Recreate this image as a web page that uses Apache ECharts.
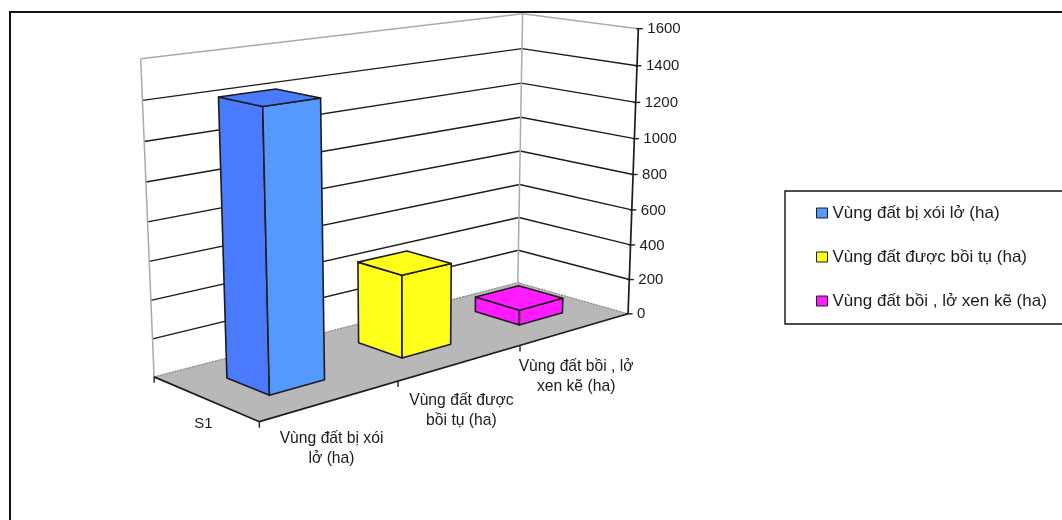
<!DOCTYPE html>
<html>
<head>
<meta charset="utf-8">
<style>html,body{margin:0;padding:0;background:#fff}#chart{width:1062px;height:520px}</style>
<script src="https://cdn.jsdelivr.net/npm/echarts@6/dist/echarts.min.js"></script>
</head>
<body>
<div id="chart"></div>
<script>
// Land-change areas, in hectares
const categories = ['Vùng đất bị xói lở (ha)', 'Vùng đất được bồi tụ (ha)', 'Vùng đất bồi , lở xen kẽ (ha)'];
const categoryLabels = ['Vùng đất bị xói\nlở (ha)', 'Vùng đất được\nbồi tụ (ha)', 'Vùng đất bồi , lở\nxen kẽ (ha)'];
const depthLabel = 'S1';
const areas = [1420, 445, 85];
const valueTicks = [0, 200, 400, 600, 800, 1000, 1200, 1400, 1600];
const frontColors = ['#5599FF', '#FFFF1A', '#FF1AFF'];
const sideColors = ['#4A7BFF', '#FFFF1A', '#FF1AFF'];

const FONT = '"Liberation Sans", Arial, sans-serif';
const INK = '#1c1c1c';
const WALL_LINE = '#ababab';
const FLOOR = '#b8b8b8';
const BAR_SHARE = 0.4; // bar size as a share of its band, along and across the floor

// Reference points of the box, as [u, v, z, screenX, screenY]:
// u runs along the categories, v into the depth, z up the value axis.
const viewPoints = [
  [0,0,0,259,421],[1,0,0,628,314],[1,1,0,517,282],[0,1,0,154,377],
  [1,0,1,638,29],[1,1,1,523,13],[0,1,1,141,59],
  [1,0,.5,633,174],[1,1,.5,520,152],[0,1,.5,147,222],
  [.1,.3,0,269,396],[.2333,.3,0,324,380],[.1,.7,0,228,378],
  [.4333,.3,0,402,358],[.5667,.3,0,451,344],[.4333,.7,0,359,342],
  [.7667,.3,0,520,325],[.9,.3,0,563,313],[.7667,.7,0,475,312]
];

// Least-squares fit of the eleven-term perspective camera for the box
function fitCamera(points) {
  const n = 11;
  const A = Array.from({length: n}, () => new Array(n + 1).fill(0));
  const addRow = (row, rhs) => {
    for (let i = 0; i < n; i++) {
      for (let j = 0; j < n; j++) A[i][j] += row[i] * row[j];
      A[i][n] += row[i] * rhs;
    }
  };
  points.forEach(([u, v, z, x, y]) => {
    addRow([u, v, z, 1, 0, 0, 0, 0, -x * u, -x * v, -x * z], x);
    addRow([0, 0, 0, 0, u, v, z, 1, -y * u, -y * v, -y * z], y);
  });
  for (let c = 0; c < n; c++) {
    let p = c;
    for (let r = c + 1; r < n; r++) if (Math.abs(A[r][c]) > Math.abs(A[p][c])) p = r;
    [A[c], A[p]] = [A[p], A[c]];
    for (let r = 0; r < n; r++) {
      if (r === c) continue;
      const f = A[r][c] / A[c][c];
      for (let k = c; k <= n; k++) A[r][k] -= f * A[c][k];
    }
  }
  return A.map((row, i) => row[n] / row[i]);
}
const cam = fitCamera(viewPoints);
function project(u, v, z) {
  const w = cam[8] * u + cam[9] * v + cam[10] * z + 1;
  return [
    (cam[0] * u + cam[1] * v + cam[2] * z + cam[3]) / w,
    (cam[4] * u + cam[5] * v + cam[6] * z + cam[7]) / w
  ];
}

// Share of the value axis, read through the chart's own scale
function axisShare(api, cs, value) {
  return (cs.y + cs.height - api.coord([0, value])[1]) / cs.height;
}
const seg = (a, b, color, width, dash) => ({
  type: 'line', silent: true,
  shape: {x1: a[0], y1: a[1], x2: b[0], y2: b[1]},
  style: {stroke: color, lineWidth: width, lineDash: dash || null}
});
const poly = (points, fill, stroke, width) => ({
  type: 'polygon', silent: true,
  shape: {points},
  style: {fill, stroke: stroke || null, lineWidth: width || 0, lineJoin: 'round'}
});
const label = (text, x, y, size, align, lineHeight) => ({
  type: 'text', silent: true,
  style: {text, x, y, fill: INK, font: size + 'px ' + FONT, align, verticalAlign: 'middle', lineHeight}
});

// Floor, walls, gridlines, the drawn axes and their labels
function renderBox(params, api) {
  const cs = params.coordSys;
  const kids = [];
  kids.push(poly([project(0,0,0), project(1,0,0), project(1,1,0), project(0,1,0)], FLOOR));
  kids.push(seg(project(0,1,0), project(1,1,0), '#8a8a8a', 1.2, [2, 1]));
  kids.push(seg(project(1,1,0), project(1,0,0), '#8a8a8a', 1.2, [2, 1]));
  valueTicks.forEach(t => {
    if (t === 0) return;
    const z = axisShare(api, cs, t);
    const last = t === valueTicks[valueTicks.length - 1];
    kids.push(seg(project(0,1,z), project(1,1,z), last ? WALL_LINE : INK, last ? 1.5 : 1.4));
    kids.push(seg(project(1,1,z), project(1,0,z), last ? WALL_LINE : INK, last ? 1.5 : 1.4));
  });
  const top = axisShare(api, cs, valueTicks[valueTicks.length - 1]);
  kids.push(seg(project(0,1,0), project(0,1,top), WALL_LINE, 1.5));
  kids.push(seg(project(1,1,0), project(1,1,top), WALL_LINE, 1.5));
  // Heavy edges: the value axis and the two front floor edges
  kids.push(seg(project(1,0,0), project(1,0,top), INK, 1.7));
  kids.push(seg(project(0,1,0), project(0,0,0), INK, 1.7));
  kids.push(seg(project(0,0,0), project(1,0,0), INK, 1.7));
  valueTicks.forEach(t => {
    const p = project(1, 0, axisShare(api, cs, t));
    kids.push(seg([p[0] - 2, p[1]], [p[0] + 4.5, p[1]], INK, 1.4));
    kids.push(label(String(t), p[0] + 9, p[1] + 0.5, 15, 'left'));
  });
  // Category boundaries and depth ends on the floor edges
  [0, 1, 2].forEach(i => {
    const p = project((api.coord([i, 0])[0] - cs.x) / cs.width - api.size([1, 0])[0] / cs.width / 2, 0, 0);
    kids.push(seg(p, [p[0], p[1] + 6], INK, 1.4));
  });
  const back = project(0, 1, 0);
  kids.push(seg(back, [back[0], back[1] + 6], INK, 1.4));
  categoryLabels.forEach((text, i) => {
    const p = project((api.coord([i, 0])[0] - cs.x) / cs.width, 0, 0);
    kids.push(label(text, p[0] + 0.5, p[1] + 48, 15.7, 'center', 20));
  });
  const d = project(0, 0.5, 0);
  kids.push(label(depthLabel, d[0] - 1.5, d[1] + 25.5, 15, 'center'));
  return {type: 'group', children: kids};
}

// One box-shaped column for a category
function renderColumn(params, api) {
  const cs = params.coordSys;
  const i = api.value(0);
  const center = (api.coord([i, 0])[0] - cs.x) / cs.width;
  const half = api.size([1, 0])[0] / cs.width * BAR_SHARE / 2;
  const z = axisShare(api, cs, api.value(1));
  const u0 = center - half, u1 = center + half;
  const v0 = 0.5 - BAR_SHARE / 2, v1 = 0.5 + BAR_SHARE / 2;
  const side = [project(u0,v1,0), project(u0,v0,0), project(u0,v0,z), project(u0,v1,z)];
  const front = [project(u0,v0,0), project(u1,v0,0), project(u1,v0,z), project(u0,v0,z)];
  const cap = [project(u0,v0,z), project(u1,v0,z), project(u1,v1,z), project(u0,v1,z)];
  return {type: 'group', children: [
    poly(side, sideColors[i], INK, 1.6),
    poly(front, frontColors[i], INK, 1.6),
    poly(cap, sideColors[i], INK, 1.6)
  ]};
}

const chart = echarts.init(document.getElementById('chart'), null, {renderer: 'canvas'});
chart.setOption({
  animation: false,
  backgroundColor: '#fff',
  grid: {left: 0, right: 0, top: 0, bottom: 0},
  xAxis: {type: 'category', data: categories, show: false},
  yAxis: {type: 'value', min: valueTicks[0], max: valueTicks[valueTicks.length - 1], interval: 200, show: false},
  legend: {
    orient: 'vertical', left: 816, top: 204.5, padding: 0,
    itemWidth: 11, itemHeight: 10, itemGap: 27,
    icon: 'rect',
    textStyle: {fontFamily: FONT, fontSize: 17, color: INK},
    data: categories.map((name, i) => ({
      name, icon: 'rect',
      itemStyle: {color: frontColors[i], borderColor: INK, borderWidth: 1}
    }))
  },
  graphic: [
    {type: 'rect', silent: true, z: -1, shape: {x: 10, y: 12, width: 1100, height: 600},
      style: {fill: 'none', stroke: '#111', lineWidth: 2}},
    {type: 'rect', silent: true, z: -1, shape: {x: 785, y: 191, width: 300, height: 133},
      style: {fill: '#fff', stroke: '#111', lineWidth: 1.4}}
  ],
  series: [
    {type: 'custom', name: 'box', z: 1, silent: true, renderItem: renderBox, data: [[0, 0]], encode: {x: 0, y: 1}},
    ...categories.map((name, i) => ({
      type: 'custom', name, z: 2, silent: true,
      itemStyle: {color: frontColors[i]},
      renderItem: renderColumn,
      data: [[i, areas[i]]],
      encode: {x: 0, y: 1}
    }))
  ]
});
</script>
</body>
</html>
